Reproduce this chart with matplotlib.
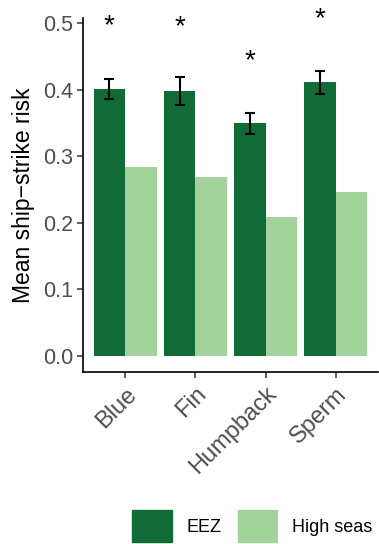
import numpy as np
import matplotlib
matplotlib.use("Agg")
import matplotlib.pyplot as plt
from matplotlib.patches import Patch

# Data
species = ["Blue", "Fin", "Humpback", "Sperm"]
eez_risk = [0.401, 0.398, 0.350, 0.412]
eez_lower = [0.387, 0.377, 0.334, 0.394]
eez_upper = [0.417, 0.419, 0.365, 0.429]
high_seas_risk = [0.284, 0.269, 0.209, 0.247]
star_y = [0.500, 0.498, 0.448, 0.510]

dark_green = "#116B37"
light_green = "#A1D39A"

plt.rcParams['font.family'] = ['Liberation Sans', 'DejaVu Sans']

fig = plt.figure(figsize=(3.79, 5.44), dpi=100)
ax = fig.add_axes([83 / 379, 1 - 372 / 544, (378 - 83) / 379, (372 - 18) / 544])

x = np.arange(1, len(species) + 1)
w = 0.45
ax.bar(x - w / 2, eez_risk, width=w, color=dark_green, label="EEZ")
ax.bar(x + w / 2, high_seas_risk, width=w, color=light_green, label="High seas")

# error bars on EEZ bars
err = [np.array(eez_risk) - np.array(eez_lower), np.array(eez_upper) - np.array(eez_risk)]
ax.errorbar(x - w / 2, eez_risk, yerr=err, fmt="none", ecolor="black",
            elinewidth=1.5, capsize=3.5, capthick=1.5)

# significance stars
for xi, yi in zip(x - w / 2, star_y):
    ax.text(xi, yi, "*", ha="center", va="center_baseline", fontsize=20, color="black")

ax.set_xlim(0.4, 4.6)
ax.set_ylim(-0.024, 0.508)
ax.set_yticks([0.0, 0.1, 0.2, 0.3, 0.4, 0.5])
ax.set_yticklabels(["0.0", "0.1", "0.2", "0.3", "0.4", "0.5"])
ax.set_xticks(x)
ax.set_xticklabels(species, rotation=45, ha="right", va="top", rotation_mode="anchor")

ax.spines["top"].set_visible(False)
ax.spines["right"].set_visible(False)
ax.spines["left"].set_linewidth(1.2)
ax.spines["bottom"].set_linewidth(1.2)
ax.tick_params(axis="both", colors="#333333", length=4, width=1.1)
ax.tick_params(axis="y", labelsize=15.5, labelcolor="#4D4D4D", pad=3)
ax.tick_params(axis="x", labelsize=17, labelcolor="#4D4D4D", pad=4)

ax.set_ylabel("Mean ship\u2212strike risk", fontsize=16.5, color="black", labelpad=6)

handles = [Patch(color=dark_green), Patch(color=light_green)]
fig.legend(handles, ["EEZ", "High seas"], loc="center", ncol=2, frameon=False,
           bbox_to_anchor=(252 / 379, 1 - 526 / 544), fontsize=13,
           handlelength=2.2, handleheight=2.3, handletextpad=0.8,
           columnspacing=0.9, borderpad=0)

fig.savefig("out.png", dpi=100)
